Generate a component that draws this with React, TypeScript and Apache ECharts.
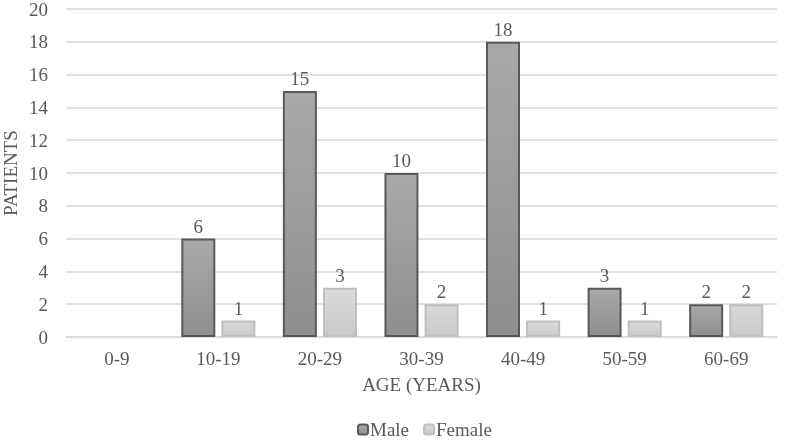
import React, { useEffect, useRef } from "react";
import * as echarts from "echarts";

const categories = ["0-9", "10-19", "20-29", "30-39", "40-49", "50-59", "60-69"];
const maleValues = [0, 6, 15, 10, 18, 3, 2];
const femaleValues = [0, 1, 3, 2, 1, 1, 2];

const FONT = "Liberation Serif, DejaVu Serif, serif";
const FS = 19;
const TXT = "#595959";

export default function App() {
  const ref = useRef<HTMLDivElement>(null);
  useEffect(() => {
    if (!ref.current) return;
    const chart = echarts.init(ref.current, undefined, { renderer: "svg" });
    const labelFmt = (p: any) => (p.value === 0 ? "" : String(p.value));
    const toData = (arr: number[]) =>
      arr.map((v) => (v === 0 ? { value: v, itemStyle: { borderWidth: 0, opacity: 0 } } : v));
    chart.setOption({
      animation: false,
      textStyle: { fontFamily: FONT },
      grid: { left: 66, right: 10, top: 9, bottom: 103, containLabel: false, outerBoundsMode: "none" },
      legend: {
        bottom: -4,
        left: 352,
        itemWidth: 10,
        itemHeight: 10,
        itemGap: 14,
        textStyle: { fontFamily: FONT, fontSize: FS, color: TXT, padding: [0, 0, 0, -3] },
        data: ["Male", "Female"],
      },
      xAxis: {
        type: "category",
        data: categories,
        name: "AGE (YEARS)",
        nameLocation: "middle",
        nameGap: 38,
        nameTextStyle: { fontFamily: FONT, fontSize: FS, color: TXT },
        axisLine: { lineStyle: { color: "#d9d9d9", width: 1.5 } },
        axisTick: { show: false },
        axisLabel: { fontFamily: FONT, fontSize: FS, color: TXT, margin: 12 },
      },
      yAxis: {
        type: "value",
        min: 0,
        max: 20,
        interval: 2,
        name: "PATIENTS",
        nameLocation: "middle",
        nameGap: 46,
        nameMoveOverlap: false,
        nameTextStyle: { fontFamily: FONT, fontSize: FS, color: TXT },
        axisLine: { show: false },
        axisTick: { show: false },
        axisLabel: { fontFamily: FONT, fontSize: FS, color: TXT, margin: 18 },
        splitLine: { lineStyle: { color: "#d9d9d9", width: 1.5 } },
      },
      series: [
        {
          name: "Male",
          type: "bar",
          data: toData(maleValues),
          barWidth: 34,
          barGap: "18%",
          itemStyle: {
            color: new echarts.graphic.LinearGradient(0, 0, 0, 1, [
              { offset: 0, color: "#a9a9a9" },
              { offset: 1, color: "#8e8e8e" },
            ]),
            borderColor: "#595959",
            borderWidth: 2,
          },
          label: {
            show: true,
            position: "top",
            distance: 3,
            formatter: labelFmt,
            fontFamily: FONT,
            fontSize: FS,
            color: TXT,
          },
        },
        {
          name: "Female",
          type: "bar",
          data: toData(femaleValues),
          barWidth: 34,
          itemStyle: {
            color: new echarts.graphic.LinearGradient(0, 0, 0, 1, [
              { offset: 0, color: "#dadada" },
              { offset: 1, color: "#c9c9c9" },
            ]),
            borderColor: "#bfbfbf",
            borderWidth: 2,
          },
          label: {
            show: true,
            position: "top",
            distance: 3,
            formatter: labelFmt,
            fontFamily: FONT,
            fontSize: FS,
            color: TXT,
          },
        },
      ],
    });
    return () => chart.dispose();
  }, []);
  return (
    <div style={{ position: "fixed", left: 0, top: 0, width: 787, height: 440 }}>
      <div ref={ref} style={{ width: 787, height: 440 }} />
    </div>
  );
}
